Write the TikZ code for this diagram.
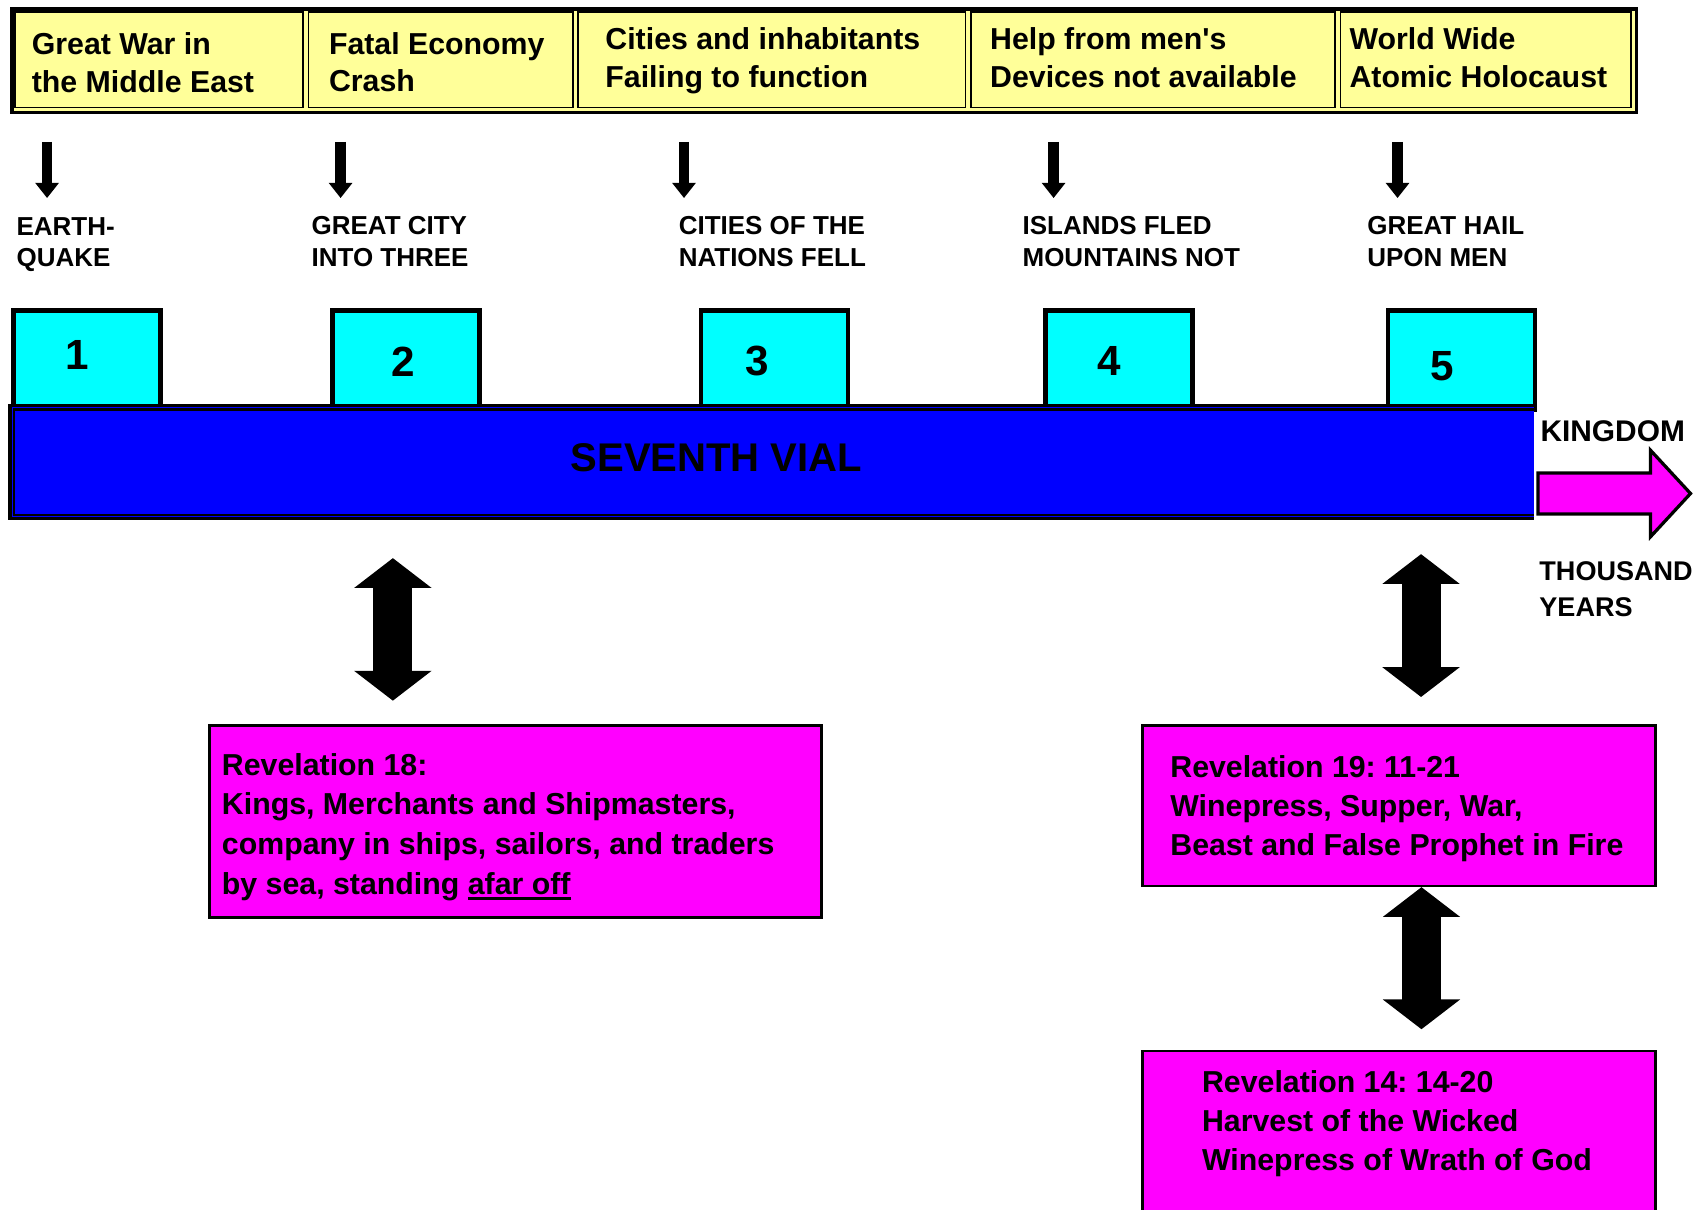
\documentclass[tikz,border=0pt]{standalone}
\usepackage{fontspec}
\setmainfont{Liberation Sans}
\usetikzlibrary{arrows.meta}
\definecolor{paleyellow}{HTML}{FFFF99}
\definecolor{vialblue}{HTML}{0000FF}
\definecolor{bowlcyan}{HTML}{00FFFF}
\definecolor{revpink}{HTML}{FF00FF}
\frenchspacing
\newsavebox{\ulbox}
\newcommand{\ulined}[1]{\sbox\ulbox{#1}\rlap{\rule[-2.5pt]{\wd\ulbox}{1.3pt}}\usebox\ulbox}
\tikzset{
	plague/.style={draw=black, line width=0.7pt, inner sep=0pt, anchor=north west},
	plaguetext/.style={anchor=west, align=left, inner sep=0pt, font=\fontsize{14}{17.5}\selectfont\bfseries},
	eventtext/.style={anchor=west, align=left, inner sep=0pt, font=\fontsize{12}{14.7}\selectfont\bfseries},
	bowl/.style={draw=black, fill=bowlcyan, line width=2.2pt, inner sep=0pt, anchor=north west, minimum width=67.95pt, minimum height=45.7pt},
	revbox/.style={draw=black, fill=revpink, line width=1.25pt, inner sep=0pt, anchor=north west},
	revtext/.style={anchor=west, align=left, inner sep=0pt, font=\fontsize{14}{18}\selectfont\bfseries},
	fallarrow/.style={line width=5pt, -{Triangle[width=10.5pt,length=7pt]}},
	linkarrow/.style={line width=18pt, {Triangle[width=35pt,length=13.75pt]}-{Triangle[width=35pt,length=13.75pt]}}
}
\begin{document}
\begin{tikzpicture}[x=0.5pt, y=-0.5pt]
	\useasboundingbox (0,0) rectangle (1568,1118);
	\clip (0,0) rectangle (1568,1118);
	\fill[white] (0,0) rectangle (1568,1118);

	\node[draw=black, fill=paleyellow, line width=1.75pt, inner sep=0pt, anchor=north west, minimum width=750.5pt, minimum height=47.95pt] (plagues) at (9.25,6.35) {};
	\foreach \l/\r [count=\i] in {13.3/279.5, 284.5/528.5, 533.5/891.5, 896.5/1233, 1238/1506.2}
		\node[plague, minimum width={(\r-\l)*0.5pt}, minimum height=44.125pt] (plague\i) at (\l,10.5) {};
	\node[plaguetext] (war) at (29,58.3) {Great War in\\the Middle East};
	\node[plaguetext] (economy) at (303.6,57.5) {Fatal Economy\\Crash};
	\node[plaguetext] (cities) at (559,56) {Cities and inhabitants\\Failing to function};
	\node[plaguetext] (devices) at (914.5,53.1) {Help from men\textquotesingle s\\Devices not available};
	\node[plaguetext] (atomic) at (1246.6,53.1) {World Wide\\Atomic Holocaust};

	\foreach \x [count=\i] in {43.5, 314.7, 632, 973.5, 1291.3} {
		\coordinate (fall\i) at (\x,131);
		\coordinate (land\i) at (\x,183);
		\draw[fallarrow] (fall\i) -- (land\i);
	}
	\node[eventtext] (quake) at (15,226) {EARTH-\\QUAKE};
	\node[eventtext] (three) at (287.6,223) {GREAT CITY\\INTO THREE};
	\node[eventtext] (nations) at (626.8,223) {CITIES OF THE\\NATIONS FELL};
	\node[eventtext] (islands) at (944.5,223) {ISLANDS FLED\\MOUNTAINS NOT};
	\node[eventtext] (hail) at (1263,223) {GREAT HAIL\\UPON MEN};

	\foreach \l/\nx/\ny [count=\i] in {8.3/71/328, 303/373/334, 643.3/700/334, 961.4/1024.5/334, 1278/1333/338} {
		\node[bowl] (bowl\i) at (\l+2.2,284.6) {};
		\node[font=\fontsize{19.5}{22}\selectfont\bfseries] (num\i) at (\nx,\ny) {\i};
	}

	\node[fill=vialblue, inner sep=0pt, anchor=north west, minimum width=704.65pt, minimum height=53.6pt] (vial) at (7.7,373.3) {};
	\draw[line width=1.5pt] (1417,374.8) -- (9.2,374.8) -- (9.2,479) -- (1417,479);
	\draw[line width=1pt] (1417,378.3) -- (12.7,378.3) -- (12.7,475.5) -- (1417,475.5);
	\node[font=\fontsize{18.5}{22}\selectfont\bfseries] (vialtext) at (662,423) {SEVENTH VIAL};

	\draw[fill=revpink, line width=1.5pt] (1421,437) -- (1525,437) -- (1525,416) -- (1562,456) -- (1525,496) -- (1525,475) -- (1421,475) -- cycle;
	\node[anchor=west, inner sep=0pt, font=\fontsize{13.8}{16.8}\selectfont\bfseries] (kingdom) at (1423,398) {KINGDOM};
	\node[anchor=west, align=left, inner sep=0pt, font=\fontsize{12.5}{16.8}\selectfont\bfseries] (thousand) at (1422,544.6) {THOUSAND\\YEARS};

	\node[revbox, minimum width=282.7pt, minimum height=88.85pt] (rev18) at (192.6,669) {};
	\node[revtext, font=\fontsize{14}{18.35}\selectfont\bfseries] (rev18text) at (204.7,764) {Revelation 18:\\Kings, Merchants and Shipmasters,\\company in ships, sailors, and traders\\by sea, standing \ulined{afar off}};
	\node[revbox, minimum width=236.7pt, minimum height=74.15pt] (rev19) at (1054.7,669) {};
	\node[revtext] (rev19text) at (1081,747) {Revelation 19: 11-21\\Winepress, Supper, War,\\Beast and False Prophet in Fire};
	\node[revbox, minimum width=236.7pt, minimum height=85.1pt] (rev14) at (1054.7,969.8) {};
	\node[revtext] (rev14text) at (1110.3,1038) {Revelation 14: 14-20\\Harvest of the Wicked\\Winepress of Wrath of God};

	\coordinate (linkAtop) at (363,515.7);
	\coordinate (linkAbot) at (363,647.4);
	\coordinate (linkBtop) at (1313,512);
	\coordinate (linkBbot) at (1313,644);
	\coordinate (linkCtop) at (1313.4,819.7);
	\coordinate (linkCbot) at (1313.4,951);
	\draw[linkarrow] (linkAtop) -- (linkAbot);
	\draw[linkarrow] (linkBtop) -- (linkBbot);
	\draw[linkarrow] (linkCtop) -- (linkCbot);
\end{tikzpicture}
\end{document}
